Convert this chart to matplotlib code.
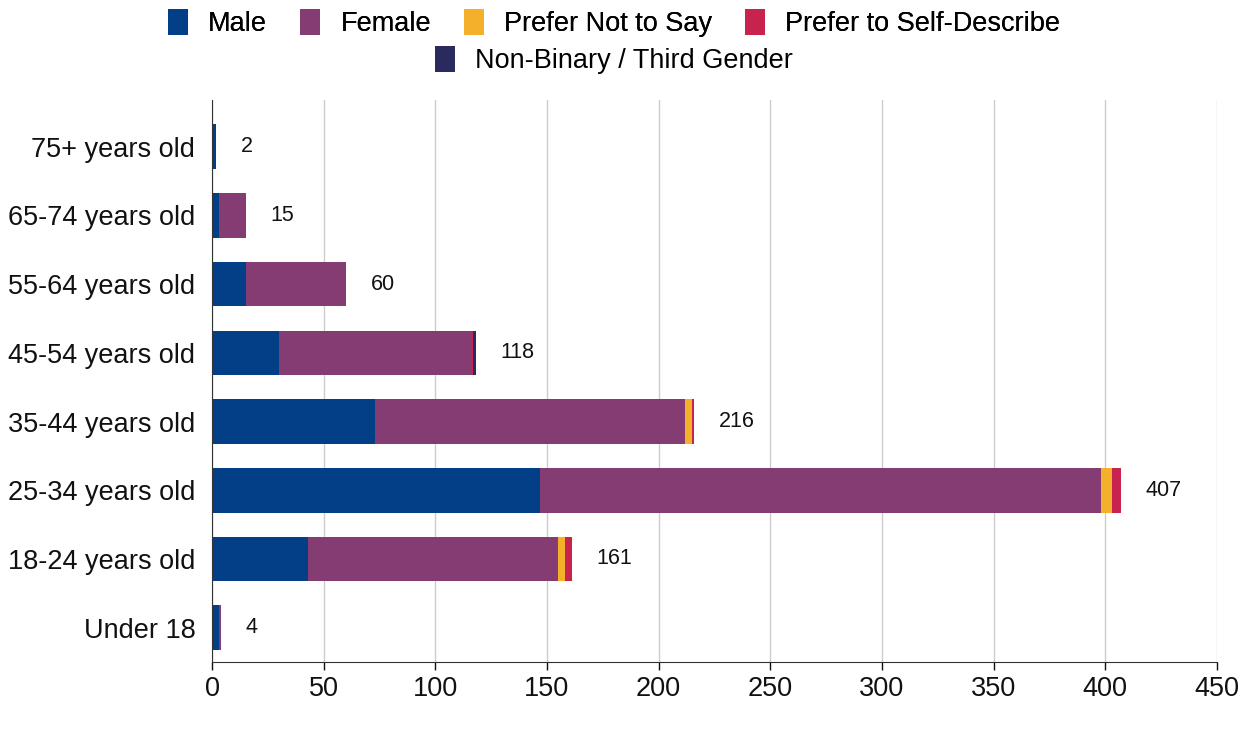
import matplotlib
matplotlib.use("Agg")
import matplotlib.pyplot as plt
import numpy as np

categories = ["Under 18", "18-24 years old", "25-34 years old", "35-44 years old",
              "45-54 years old", "55-64 years old", "65-74 years old", "75+ years old"]
male = [3, 43, 147, 73, 30, 15, 3, 2]
female = [1, 112, 251, 139, 86, 45, 12, 0]
prefer_not = [0, 3, 5, 3, 0, 0, 0, 0]
self_describe = [0, 3, 4, 1, 1, 0, 0, 0]
non_binary = [0, 0, 0, 0, 1, 0, 0, 0]
totals = [4, 161, 407, 216, 118, 60, 15, 2]

series = [("Male", male, "#033f87"), ("Female", female, "#843c72"),
          ("Prefer Not to Say", prefer_not, "#f5b02b"),
          ("Prefer to Self-Describe", self_describe, "#c8224f"),
          ("Non-Binary / Third Gender", non_binary, "#2a2a5e")]

plt.rcParams['font.family'] = ['Liberation Sans', 'DejaVu Sans']
fig = plt.figure(figsize=(12.57, 7.29), dpi=100)
ax = fig.add_axes([212/1257, 1-662/729, (1217-212)/1257, (662-100)/729])

y = np.arange(len(categories))
left = np.zeros(len(categories))
handles = []
for name, vals, col in series:
    v = np.array(vals, dtype=float)
    h = ax.barh(y, v, left=left, height=0.65, color=col, label=name, zorder=3)
    handles.append(h)
    left += v

for yi, t in zip(y, totals):
    ax.text(t + 11, yi, str(t), va='center', ha='left', fontsize=15.5, color='#111111')

ax.set_xlim(0, 450)
ax.set_ylim(-0.5, 7.68)
ax.set_xticks(np.arange(0, 451, 50))
ax.set_yticks(y)
ax.set_yticklabels(categories)
ax.tick_params(axis='y', length=0, labelsize=19.5, pad=12, colors='#111111')
ax.tick_params(axis='x', length=6, labelsize=19.5, colors='#111111', width=1, pad=4)
ax.grid(axis='x', color='#cccccc', linewidth=1, zorder=0)
for s in ['top', 'right']:
    ax.spines[s].set_visible(False)
ax.spines['left'].set_color('#333333')
ax.spines['bottom'].set_color('#333333')
ax.spines['left'].set_zorder(4)

names = [s[0] for s in series]
leg_kw = dict(frameon=False, fontsize=19.5, handlelength=0.75, handleheight=1.1,
              handletextpad=0.75, columnspacing=1.2, borderaxespad=0, borderpad=0)
leg1 = fig.legend(handles=handles[:4], labels=names[:4], loc='center',
                  bbox_to_anchor=(614/1257, 1-23/729), ncol=4, **leg_kw)
fig.add_artist(leg1)
leg2 = fig.legend(handles=handles[4:], labels=names[4:], loc='center',
                  bbox_to_anchor=(614/1257, 1-60/729), ncol=1, **leg_kw)

fig.savefig("out.png", dpi=100)
